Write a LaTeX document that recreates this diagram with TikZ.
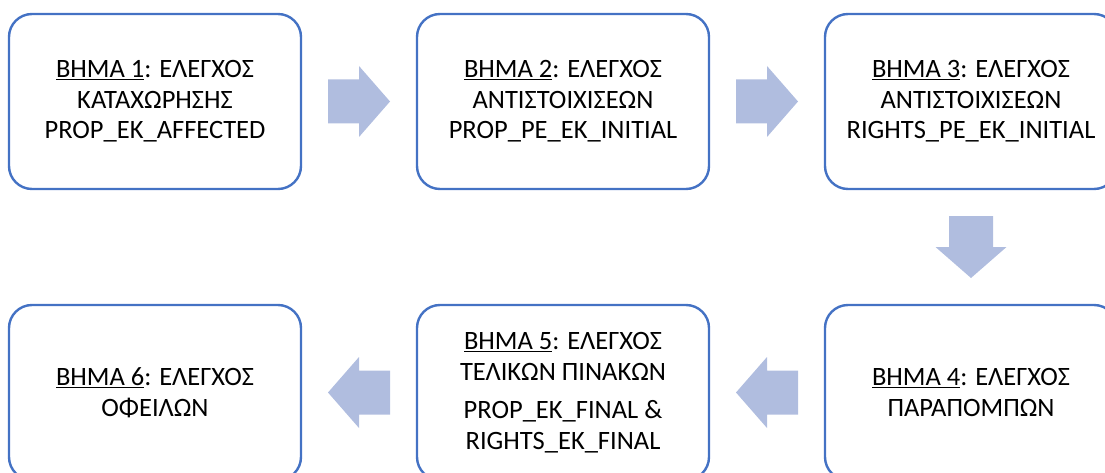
\documentclass[tikz,border=0pt]{standalone}
\usepackage{fontspec}
\setmainfont{Carlito}
\usetikzlibrary{calc}
\definecolor{boxblue}{RGB}{68,114,196}
\definecolor{arrowfill}{RGB}{176,189,223}
\begin{document}
\begin{tikzpicture}[x=1pt,y=-1pt,
  stepbox/.style={draw=boxblue, line width=2.4pt, rounded corners=23pt, minimum width=292pt, minimum height=175pt, align=center, font=\fontsize{26.5}{30.5}\selectfont, inner sep=0pt},
  blockarrow/.pic={\fill[arrowfill] (-31,-22) -- (0,-22) -- (0,-35.5) -- (31,0) -- (0,35.5) -- (0,22) -- (-31,22) -- cycle;}
]
\useasboundingbox (0,0) rectangle (1105,473);
\node[stepbox] (b1) at (155,101.5) {\underline{ΒΗΜΑ 1}: ΕΛΕΓΧΟΣ\\ΚΑΤΑΧΩΡΗΣΗΣ\\PROP\_EK\_AFFECTED};
\node[stepbox] (b2) at (563,101.5) {\underline{ΒΗΜΑ 2}: ΕΛΕΓΧΟΣ\\ΑΝΤΙΣΤΟΙΧΙΣΕΩΝ\\PROP\_PE\_EK\_INITIAL};
\node[stepbox] (b3) at (971,101.5) {\underline{ΒΗΜΑ 3}: ΕΛΕΓΧΟΣ\\ΑΝΤΙΣΤΟΙΧΙΣΕΩΝ\\RIGHTS\_PE\_EK\_INITIAL};
\node[stepbox] (b4) at (971,392.5) {\underline{ΒΗΜΑ 4}: ΕΛΕΓΧΟΣ\\ΠΑΡΑΠΟΜΠΩΝ};
\node[stepbox] (b5) at (563,392.5) {\underline{ΒΗΜΑ 5}: ΕΛΕΓΧΟΣ\\ΤΕΛΙΚΩΝ ΠΙΝΑΚΩΝ\\[8pt]PROP\_EK\_FINAL \&\\RIGHTS\_EK\_FINAL};
\node[stepbox] (b6) at (155,392.5) {\underline{ΒΗΜΑ 6}: ΕΛΕΓΧΟΣ\\ΟΦΕΙΛΩΝ};
\pic at ($(b1.east)!0.5!(b2.west)$) {blockarrow};
\pic at ($(b2.east)!0.5!(b3.west)$) {blockarrow};
\pic[rotate=-90] at ($(b3.south)!0.5!(b4.north)$) {blockarrow};
\pic[rotate=180] at ($(b4.west)!0.5!(b5.east)$) {blockarrow};
\pic[rotate=180] at ($(b5.west)!0.5!(b6.east)$) {blockarrow};
\end{tikzpicture}
\end{document}
